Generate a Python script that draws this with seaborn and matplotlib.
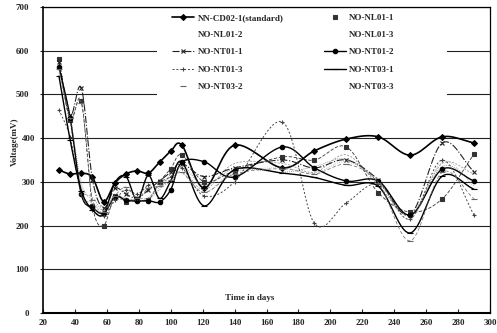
import numpy as np
import pandas as pd
import seaborn as sns
import matplotlib
matplotlib.use("Agg")
import matplotlib.pyplot as plt
import matplotlib.transforms as mtransforms
from matplotlib.lines import Line2D
from matplotlib.patches import Rectangle

sns.set_style("white")
plt.rcParams["font.family"] = ["Liberation Serif", "DejaVu Serif"]
plt.rcParams["font.weight"] = "bold"

# data (voltage in mV)
days = [30, 37, 44, 51, 58, 65, 72, 79, 86, 93, 100, 107, 121, 140, 170, 190, 210, 230, 250, 270, 290]

cd02_1 = [327, 318, 320, 310, 255, 297, 318, 325, 320, 345, 370, 384, 286, 384, 332, 371, 398, 403, 361, 403, 389]
nl01_1 = [582, 442, 485, 245, 200, 268, 255, 260, 258, 300, 330, 362, 300, 325, 357, 350, 380, 275, 231, 261, 364]
nl01_2 = [565, 450, 290, 265, 235, 262, 262, 255, 262, 282, 318, 340, 292, 330, 322, 335, 352, 300, 222, 335, 300]
nl01_3 = [572, 440, 275, 252, 228, 258, 258, 262, 264, 292, 312, 332, 282, 342, 342, 322, 362, 292, 226, 342, 318]
nt01_1 = [575, 452, 515, 305, 240, 285, 272, 262, 282, 302, 322, 342, 312, 332, 350, 332, 350, 305, 225, 389, 323]
nt01_2 = [562, 447, 272, 242, 228, 266, 258, 256, 257, 254, 282, 345, 346, 311, 380, 332, 302, 302, 224, 329, 302]
nt01_3 = [465, 402, 272, 236, 222, 258, 282, 272, 292, 300, 312, 332, 268, 300, 437, 205, 252, 295, 215, 350, 224]
nt03_1 = [542, 396, 280, 236, 226, 298, 312, 258, 315, 262, 302, 346, 245, 328, 320, 310, 292, 290, 183, 313, 283]
nt03_2 = [558, 445, 480, 258, 232, 268, 288, 262, 286, 290, 305, 322, 276, 318, 330, 318, 340, 298, 165, 322, 261]
nt03_3 = [550, 446, 300, 256, 236, 270, 262, 258, 262, 286, 300, 320, 276, 322, 332, 320, 346, 300, 215, 346, 290]


def smooth(x, y, n=14):
    # catmull-rom curve through the points, like the "smoothed line" option
    P = np.column_stack([np.asarray(x, float), np.asarray(y, float)])
    P = np.vstack([2 * P[0] - P[1], P, 2 * P[-1] - P[-2]])
    t = np.linspace(0, 1, n, endpoint=False)[:, None]
    h00 = 2 * t**3 - 3 * t**2 + 1
    h10 = t**3 - 2 * t**2 + t
    h01 = -2 * t**3 + 3 * t**2
    h11 = t**3 - t**2
    out = []
    for i in range(1, len(P) - 2):
        p0, p1, p2, p3 = P[i - 1], P[i], P[i + 1], P[i + 2]
        m1 = (p2 - p0) / 2
        m2 = (p3 - p1) / 2
        out.append(h00 * p1 + h10 * m1 + h01 * p2 + h11 * m2)
    out.append(P[-2][None, :])
    c = np.vstack(out)
    return pd.DataFrame({"day": c[:, 0], "mv": c[:, 1]})


# name, values, linestyle, linewidth, colour, marker, marker size, show line in legend, show marker in legend
series = [
    ("NN-CD02-1(standard)", cd02_1, "-", 1.2, "black", "D", 3.0, True, True),
    ("NO-NL01-1", nl01_1, (0, (4, 2)), 0.6, "#333333", "s", 3.5, False, True),
    ("NO-NL01-2", nl01_2, (0, (1, 1.5)), 0.6, "#777777", None, 0, False, False),
    ("NO-NL01-3", nl01_3, (0, (3, 2)), 0.5, "#888888", None, 0, False, False),
    ("NO-NT01-1", nt01_1, "-.", 0.8, "#222222", "x", 3.0, True, True),
    ("NO-NT01-2", nt01_2, "-", 1.0, "black", "o", 3.2, True, True),
    ("NO-NT01-3", nt01_3, (0, (2, 2)), 0.7, "#444444", "+", 3.5, True, True),
    ("NO-NT03-1", nt03_1, "-", 1.0, "black", "_", 4.0, True, True),
    ("NO-NT03-2", nt03_2, (0, (5, 3)), 0.5, "#666666", "_", 4.0, False, True),
    ("NO-NT03-3", nt03_3, (0, (1, 2)), 0.5, "#888888", None, 0, False, False),
]

fig, ax = plt.subplots(figsize=(4.97, 3.33), dpi=100)
fig.subplots_adjust(left=0.0865, right=0.986, bottom=0.06, top=0.979)

handles = {}
for name, vals, ls, lw, col, mk, ms, show_line, show_mk in series:
    curve = smooth(days, vals)
    sns.lineplot(data=curve, x="day", y="mv", sort=False, estimator=None, ax=ax,
                 color=col, linewidth=lw, linestyle=ls)
    if mk is not None:
        ax.plot(days, vals, linestyle="none", marker=mk, markersize=ms, color=col,
                markeredgewidth=0.8)
    handles[name] = Line2D([], [], color=col, linewidth=lw if show_line else 0,
                           linestyle=ls if show_line else "none",
                           marker=mk if show_mk else None, markersize=ms,
                           markeredgewidth=0.8)

ax.set_xlim(20, 300)
ax.set_ylim(0, 700)
ax.set_xticks(range(20, 301, 20))
ax.set_yticks(range(0, 701, 100))
ax.yaxis.grid(True, color="#222222", linewidth=0.8)
ax.xaxis.grid(False)
ax.set_axisbelow(True)

for s in ax.spines.values():
    s.set_visible(True)
    s.set_color("black")
    s.set_linewidth(0.9)
ax.spines["bottom"].set_linewidth(1.5)
ax.spines["left"].set_linewidth(1.2)

ax.tick_params(axis="x", direction="in", length=3, width=0.8, labelsize=6.5, pad=4, bottom=True)
ax.tick_params(axis="y", direction="out", length=2, width=0.8, labelsize=6.5, pad=8, left=True)

# in the scan the 300 and 400 labels sit a bit to the right, next to the axis title
fig.canvas.draw()
shift = mtransforms.ScaledTranslation(6 / 100, 0, fig.dpi_scale_trans)
for lab in ax.get_yticklabels():
    if lab.get_text() in ("300", "400"):
        lab.set_transform(lab.get_transform() + shift)

ax.set_xlabel("")
ax.set_ylabel("Voltage(mV)", fontsize=6.5, fontweight="bold")
ax.yaxis.set_label_coords(-0.053, 0.56)
ax.text(0.463, 0.049, "Time in days", transform=ax.transAxes, ha="center", va="center",
        fontsize=6.5, fontweight="bold")

# white box behind the legend hides the grid lines, as in the original
ax.add_patch(Rectangle((0.255, 0.68), 0.649, 0.315, transform=ax.transAxes,
                       facecolor="white", edgecolor="none", zorder=1.5))

col1 = ["NN-CD02-1(standard)", "NO-NL01-2", "NO-NT01-1", "NO-NT01-3", "NO-NT03-2"]
col2 = ["NO-NL01-1", "NO-NL01-3", "NO-NT01-2", "NO-NT03-1", "NO-NT03-3"]
order = col1 + col2
leg = ax.legend([handles[n] for n in order], order, loc="upper left",
                bbox_to_anchor=(0.285, 0.985), ncol=2, frameon=False,
                fontsize=6.5, handlelength=2.4, handletextpad=0.4,
                columnspacing=4.5, labelspacing=1.0, borderpad=0.2, borderaxespad=0)
for t in leg.get_texts():
    t.set_fontweight("bold")

fig.savefig("out.png", dpi=100)
